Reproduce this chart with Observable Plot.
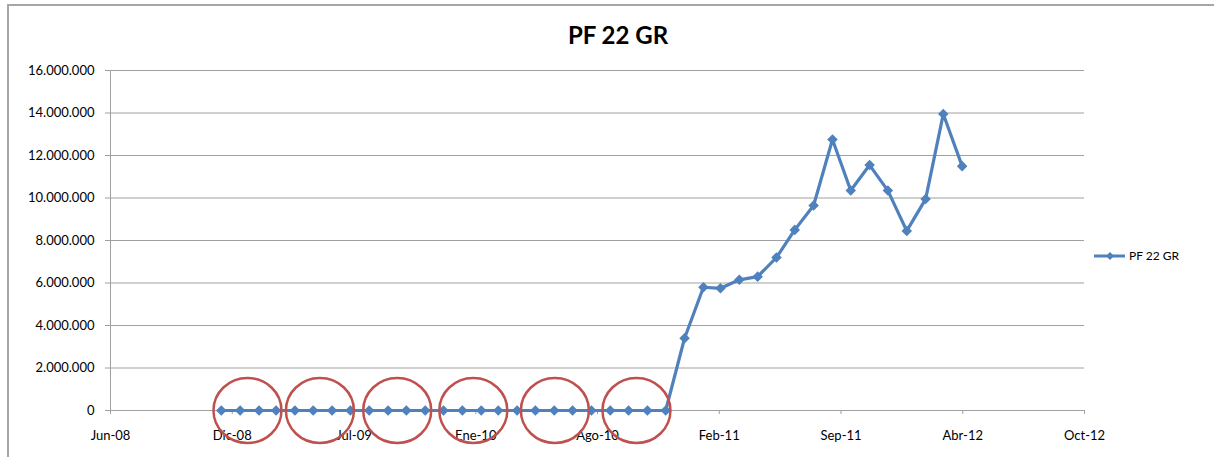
<!DOCTYPE html>
<html>
<head>
<meta charset="utf-8">
<script src="https://cdn.jsdelivr.net/npm/d3@7"></script>
<script src="https://cdn.jsdelivr.net/npm/@observablehq/plot@0.6"></script>
<style>
  body { margin: 0; background: #fff; overflow: hidden; font-family: Lato, "Open Sans", sans-serif; }
  #wrap { position: relative; width: 1214px; height: 457px; overflow: hidden; background: #fff; }
  #chart { position: absolute; left: 0; top: 0; }
  #frame { position: absolute; left: 7px; top: 4px; width: 1400px; height: 700px;
           border-top: 2px solid #a6a6a6; border-left: 2px solid #a6a6a6; pointer-events: none; }
  #title { position: absolute; left: 0; width: 1236px; top: 23px; text-align: center;
           font: bold 24px/24px Lato, sans-serif; color: #000; }
  #legend { position: absolute; left: 1094px; top: 249px; height: 14px; display: flex; align-items: center;
            font: 12px/14px Lato, sans-serif; color: #000; }
  #legend svg { margin-right: 3px; }
  #chart g[aria-label="y-axis tick"], #chart g[aria-label="x-axis tick"] { stroke: #a0a0a0; }
</style>
</head>
<body>
<div id="wrap">
  <div id="chart"></div>
  <div id="frame"></div>
  <div id="title"></div>
  <div id="legend"></div>
</div>
<script>
// ---- Data ----
const chartTitle = "PF 22 GR";
const seriesName = "PF 22 GR";

const months = [
  "2008-12-01","2009-01-01","2009-02-01","2009-03-01","2009-04-01","2009-05-01","2009-06-01",
  "2009-07-01","2009-08-01","2009-09-01","2009-10-01","2009-11-01","2009-12-01",
  "2010-01-01","2010-02-01","2010-03-01","2010-04-01","2010-05-01","2010-06-01",
  "2010-07-01","2010-08-01","2010-09-01","2010-10-01","2010-11-01","2010-12-01",
  "2011-01-01","2011-02-01","2011-03-01","2011-04-01","2011-05-01","2011-06-01",
  "2011-07-01","2011-08-01","2011-09-01","2011-10-01","2011-11-01","2011-12-01",
  "2012-01-01","2012-02-01","2012-03-01","2012-04-01"
];
const values = [
  0, 0, 0, 0, 0, 0, 0,
  0, 0, 0, 0, 0, 0,
  0, 0, 0, 0, 0, 0,
  0, 0, 0, 0, 0, 0,
  3400000, 5800000, 5750000, 6150000, 6300000, 7200000,
  8500000, 9650000, 12750000, 10350000, 11550000, 10350000,
  8450000, 9950000, 13950000, 11500000
];

// x axis (Excel date axis, major unit 200 days)
const axisStart = "2008-06-02";
const tickLabels = ["Jun-08","Dic-08","Jul-09","Ene-10","Ago-10","Feb-11","Sep-11","Abr-12","Oct-12"];
const tickStepDays = 200;

const yTicks = [0, 2000000, 4000000, 6000000, 8000000, 10000000, 12000000, 14000000, 16000000];

// red annotation ellipses (centres)
const circleCenters = ["2009-01-13","2009-05-12","2009-09-16","2010-01-19","2010-06-02","2010-10-14"];

// ---- Build ----
const parse = d3.utcParse("%Y-%m-%d");
const data = months.map((m, i) => ({date: parse(m), value: values[i]}));
const start = parse(axisStart);
const tickDates = tickLabels.map((_, i) => d3.utcDay.offset(start, i * tickStepDays));
const end = tickDates[tickDates.length - 1];
const circles = circleCenters.map(parse);

const locale = d3.formatLocale({decimal: ",", thousands: ".", grouping: [3], currency: ["", ""]});
const fmt = locale.format(",.0f");

const diamond = {
  draw(ctx, size) {
    const h = Math.sqrt(size / 2);
    ctx.moveTo(0, -h); ctx.lineTo(h, 0); ctx.lineTo(0, h); ctx.lineTo(-h, 0); ctx.closePath();
  }
};
const ellipse = {
  draw(ctx, size) {
    const R = Math.sqrt(size / Math.PI), rx = R * 1.03, ry = R * 0.985, k = 0.5523;
    ctx.moveTo(rx, 0);
    ctx.bezierCurveTo(rx, ry * k, rx * k, ry, 0, ry);
    ctx.bezierCurveTo(-rx * k, ry, -rx, ry * k, -rx, 0);
    ctx.bezierCurveTo(-rx, -ry * k, -rx * k, -ry, 0, -ry);
    ctx.bezierCurveTo(rx * k, -ry, rx, -ry * k, rx, 0);
    ctx.closePath();
  }
};

const color = "#4F81BD";

const plot = Plot.plot({
  width: 1214,
  height: 457,
  marginLeft: 110,
  marginRight: 130,
  marginTop: 70,
  marginBottom: 47,
  style: {fontFamily: "Lato, sans-serif", fontSize: "13px", color: "#000", background: "transparent", overflow: "visible"},
  x: {type: "utc", domain: [start, end]},
  y: {domain: [0, 16000000]},
  marks: [
    Plot.gridY(yTicks, {stroke: "#a0a0a0", strokeOpacity: 1, strokeWidth: 1}),
    Plot.ruleX([start], {y1: 0, y2: 16000000, stroke: "#a0a0a0"}),
    Plot.axisY({ticks: yTicks, tickFormat: fmt, tickSize: 5, tickPadding: 11, label: null, fontSize: 13}),
    Plot.axisX({ticks: tickDates, tickFormat: d => tickLabels[tickDates.findIndex(t => +t === +d)],
                tickSize: 4, tickPadding: 16.5, label: null, fontSize: 13}),
    Plot.line(data, {x: "date", y: "value", stroke: color, strokeWidth: 3.2}),
    Plot.dot(data, {x: "date", y: "value", symbol: diamond, r: 4.2, fill: color, stroke: "none"}),
    Plot.dot(circles, {x: d => d, y: () => 0, symbol: ellipse, r: 33, stroke: "#C0504D", strokeWidth: 2.5, fill: "none"})
  ]
});
document.getElementById("chart").appendChild(plot);
document.getElementById("title").textContent = chartTitle;
document.getElementById("legend").innerHTML =
  `<svg width="32" height="12"><line x1="0" y1="6" x2="31" y2="6" stroke="${color}" stroke-width="3"/>` +
  `<path d="M16,2 L20,6 L16,10 L12,6Z" fill="${color}"/></svg><span></span>`;
document.querySelector("#legend span").textContent = seriesName;
</script>
</body>
</html>
